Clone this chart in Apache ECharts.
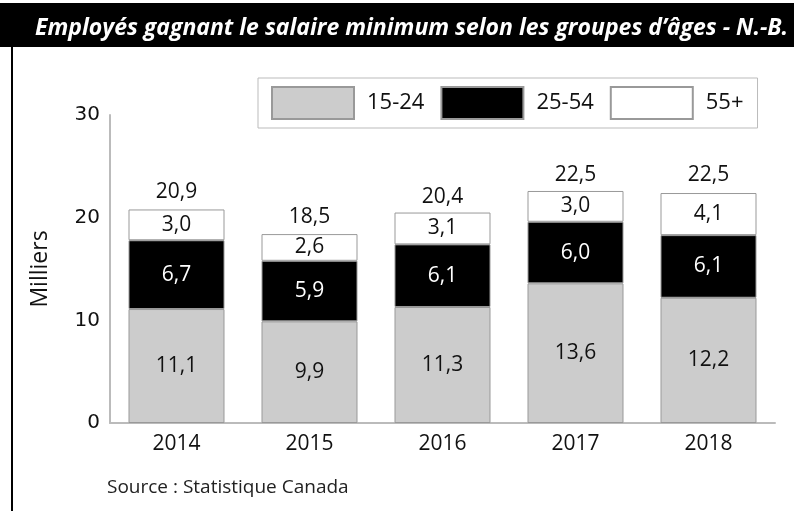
<!DOCTYPE html>
<html lang="fr">
<head>
  <meta charset="UTF-8">
  <title>Salaire minimum N.-B.</title>
  <style>
    html, body { margin: 0; padding: 0; background: #fff; }
    #main { width: 794px; height: 511px; }
  </style>
</head>
<body>
  <div id="main"></div>
</body>
<script src="https://cdn.jsdelivr.net/npm/echarts@6/dist/echarts.min.js"></script>
<script>
  const years = ['2014', '2015', '2016', '2017', '2018'];
  const age1524 = [11.1, 9.9, 11.3, 13.6, 12.2];
  const age2554 = [6.7, 5.9, 6.1, 6.0, 6.1];
  const age55 = [3.0, 2.6, 3.1, 3.0, 4.1];
  const totals = [20.9, 18.5, 20.4, 22.5, 22.5];

  const fmt = v => v.toFixed(1).replace('.', ',');
  const font = 'Open Sans';

  let myChart = echarts.init(document.getElementById('main'));

  function stackSeries(name, data, fill, textColor) {
    return {
      name: name,
      type: 'bar',
      stack: 'age',
      barWidth: 96,
      data: data,
      itemStyle: { color: fill, borderColor: '#999', borderWidth: 1 },
      label: {
        show: true,
        position: 'inside',
        color: textColor,
        fontFamily: font,
        fontSize: 21,
        formatter: p => fmt(p.value)
      }
    };
  }

  myChart.setOption({
    animation: false,
    title: {
      text: 'Employés gagnant le salaire minimum selon les groupes d\u2019âges - N.-B.',
      left: 30,
      top: 12,
      textStyle: {
        color: '#fff',
        fontFamily: font,
        fontStyle: 'italic',
        fontWeight: 'bold',
        fontSize: 23
      }
    },
    graphic: [
      { type: 'rect', z: -1, shape: { x: 0, y: 3, width: 794, height: 44 }, style: { fill: '#000' } },
      { type: 'rect', shape: { x: 11, y: 47, width: 2, height: 464 }, style: { fill: '#000' } },
      {
        type: 'text', left: 107, top: 478,
        style: { text: 'Source : Statistique Canada', fill: '#222', font: '19px "Open Sans"' }
      }
    ],
    legend: {
      data: ['15-24', '25-54', '55+'],
      icon: 'rect',
      left: 258,
      top: 78,
      padding: [8, 14, 8, 13],
      itemGap: 16,
      itemWidth: 82,
      itemHeight: 32,
      borderColor: '#bbb',
      borderWidth: 1,
      textStyle: { fontFamily: font, fontSize: 22, color: '#111', padding: [0, 0, 0, 8] }
    },
    grid: { left: 110, right: 19, top: 115, bottom: 88 },
    xAxis: {
      type: 'category',
      data: years,
      axisLine: { lineStyle: { color: '#bbb', width: 2 } },
      axisTick: { show: false },
      axisLabel: { color: '#111', fontFamily: font, fontSize: 21, margin: 11 }
    },
    yAxis: {
      type: 'value',
      min: 0,
      max: 30,
      interval: 10,
      name: 'Milliers',
      nameLocation: 'middle',
      nameGap: 58,
      nameTextStyle: { color: '#111', fontFamily: font, fontSize: 23 },
      splitLine: { show: false },
      axisLine: { show: true, lineStyle: { color: '#bbb', width: 2 } },
      axisTick: { show: false },
      axisLabel: { color: '#111', fontFamily: 'DejaVu Sans', fontSize: 20, margin: 10 }
    },
    series: [
      stackSeries('15-24', age1524, '#cccccc', '#111'),
      stackSeries('25-54', age2554, '#000000', '#fff'),
      stackSeries('55+', age55, '#ffffff', '#111'),
      {
        name: 'Total',
        type: 'bar',
        barWidth: 96,
        barGap: '-100%',
        silent: true,
        data: totals,
        itemStyle: { color: 'rgba(0,0,0,0)' },
        label: {
          show: true,
          position: 'top',
          distance: 6,
          color: '#111',
          fontFamily: font,
          fontSize: 21,
          formatter: p => fmt(p.value)
        }
      }
    ]
  });
</script>
</html>
